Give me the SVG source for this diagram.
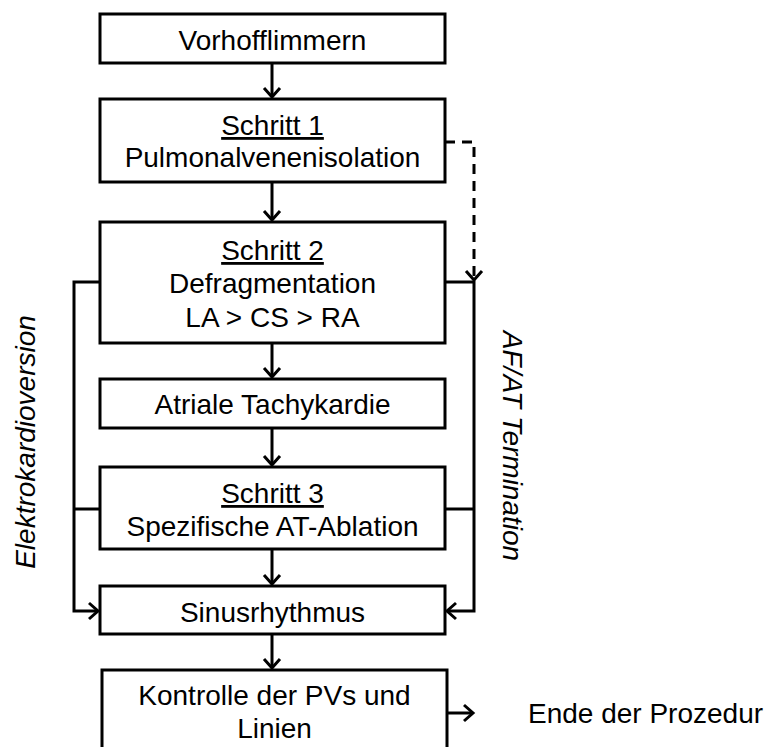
<svg xmlns="http://www.w3.org/2000/svg" width="766" height="747" viewBox="0 0 766 747">
<style>
.box{fill:#fff;stroke:#000;stroke-width:3}
.t{font-family:"Liberation Sans",Arial,sans-serif;font-size:28px;fill:#000;text-anchor:middle}
.u{text-decoration:underline}
.side{font-family:"Liberation Sans",Arial,sans-serif;font-size:28px;font-style:italic;fill:#000;text-anchor:middle}
.c{fill:none;stroke:#000;stroke-width:3}
.d{stroke-dasharray:10 7}
</style>
<defs>
<marker id="ah" markerUnits="userSpaceOnUse" markerWidth="20" markerHeight="20" viewBox="-12 -10 14 20" refX="0" refY="0" orient="auto">
<path d="M-9,-8 L0,0 L-9,8" fill="none" stroke="#000" stroke-width="3"/>
</marker>
</defs>
<g id="connectors">
<path class="c" d="M272,63 V97" marker-end="url(#ah)"/>
<path class="c" d="M272,182 V220" marker-end="url(#ah)"/>
<path class="c" d="M272,343 V377" marker-end="url(#ah)"/>
<path class="c" d="M272,428 V465" marker-end="url(#ah)"/>
<path class="c" d="M272,549 V584" marker-end="url(#ah)"/>
<path class="c" d="M272,634 V668" marker-end="url(#ah)"/>
<path class="c" d="M100,282 H74 V611 H98" marker-end="url(#ah)"/>
<path class="c" d="M100,509 H74"/>
<path class="c" d="M445,282 H474 V611 H447" marker-end="url(#ah)"/>
<path class="c" d="M445,509 H474"/>
<path class="c d" d="M445,142 H474 V280" marker-end="url(#ah)"/>
<path class="c" d="M447,713 H473" marker-end="url(#ah)"/>
</g>
<g id="n1"><rect class="box" x="100" y="14" width="345" height="49"/><text class="t" x="272.5" y="50">Vorhofflimmern</text></g>
<g id="n2"><rect class="box" x="100" y="99" width="345" height="83"/><text class="t u" x="272.5" y="135">Schritt 1</text><text class="t" x="272.5" y="167">Pulmonalvenenisolation</text></g>
<g id="n3"><rect class="box" x="100" y="222" width="345" height="121"/><text class="t u" x="272.5" y="260">Schritt 2</text><text class="t" x="272.5" y="293">Defragmentation</text><text class="t" x="272.5" y="327">LA &gt; CS &gt; RA</text></g>
<g id="n4"><rect class="box" x="100" y="379" width="345" height="49"/><text class="t" x="272.5" y="414">Atriale Tachykardie</text></g>
<g id="n5"><rect class="box" x="100" y="467" width="345" height="82"/><text class="t u" x="272.5" y="503">Schritt 3</text><text class="t" x="272.5" y="536">Spezifische AT-Ablation</text></g>
<g id="n6"><rect class="box" x="100" y="586" width="345" height="48"/><text class="t" x="272.5" y="622">Sinusrhythmus</text></g>
<g id="n7"><rect class="box" x="102" y="670" width="345" height="90"/><text class="t" x="274.5" y="705">Kontrolle der PVs und</text><text class="t" x="274.5" y="738">Linien</text></g>
<g id="n8"><text class="t" x="528" y="723" style="text-anchor:start">Ende der Prozedur</text></g>
<g id="labels">
<text class="side" transform="translate(35,442) rotate(-90)">Elektrokardioversion</text>
<text class="side" transform="translate(503,446) rotate(90)">AF/AT Termination</text>
</g>
</svg>
